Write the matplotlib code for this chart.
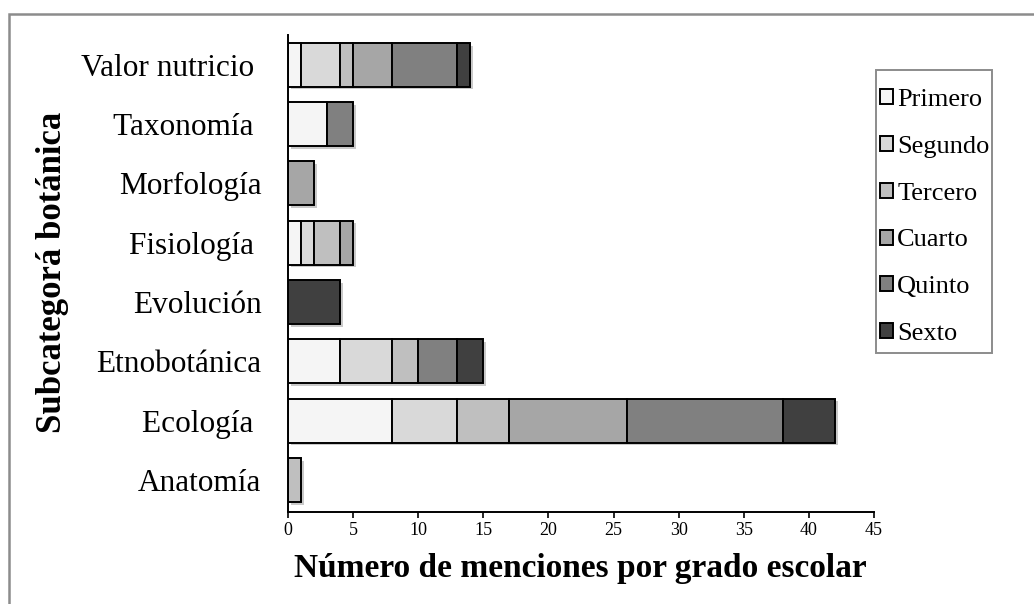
import matplotlib
matplotlib.use("Agg")
import matplotlib.pyplot as plt
import matplotlib.patheffects as pe
from matplotlib.patches import Rectangle
import numpy as np

plt.rcParams["font.family"] = ["Liberation Serif", "DejaVu Serif"]

# subcategorias (de cima para baixo) e mencoes por grado escolar
categorias = ["Valor nutricio ", "Taxonomía ", "Morfología", "Fisiología ",
              "Evolución", "Etnobotánica", "Ecología ", "Anatomía"]
grados = ["Primero", "Segundo", "Tercero", "Cuarto", "Quinto", "Sexto"]
primero = [1, 3, 0, 1, 0, 4, 8, 0]
segundo = [3, 0, 0, 1, 0, 4, 5, 0]
tercero = [1, 0, 0, 2, 0, 2, 4, 1]
cuarto = [3, 0, 2, 1, 0, 0, 9, 0]
quinto = [5, 2, 0, 0, 0, 3, 12, 0]
sexto = [1, 0, 0, 0, 4, 2, 4, 0]
cores = ["#f5f5f5", "#d9d9d9", "#bfbfbf", "#a6a6a6", "#808080", "#404040"]

series = [primero, segundo, tercero, cuarto, quinto, sexto]

fig = plt.figure(figsize=(10.34, 6.04), dpi=100)
ax = fig.add_axes([0.2785, 0.1523, 0.5667, 0.7897])

y = np.arange(len(categorias))[::-1]
esquerda = np.zeros(len(categorias))
sombra = [pe.SimplePatchShadow(offset=(2, -2), shadow_rgbFace="0.4", alpha=0.35), pe.Normal()]
for nome, vals, cor in zip(grados, series, cores):
    vals = np.array(vals, dtype=float)
    barras = ax.barh(y, vals, left=esquerda, height=0.74, color=cor,
                     edgecolor="black", linewidth=1.4, label=nome)
    for b, v in zip(barras, vals):
        if v == 0:
            b.set_visible(False)
        else:
            b.set_path_effects(sombra)
    esquerda += vals

ax.set_xlim(0, 45)
ax.set_ylim(-0.54, 7.5)
ax.set_xticks(range(0, 46, 5))
ax.set_yticks(y)
ax.set_yticklabels(categorias, fontsize=22.5)
ax.tick_params(axis="y", length=0, pad=19)
ax.tick_params(axis="x", length=4, width=1.2, direction="out", labelsize=13, pad=3)
for lado in ("top", "right"):
    ax.spines[lado].set_visible(False)
ax.spines["left"].set_linewidth(1.4)
ax.spines["bottom"].set_linewidth(1.4)

fig.text(0.561, 1 - 568 / 604, "Número de menciones por grado escolar",
         ha="center", va="center", fontsize=24, fontweight="bold")
fig.text(53 / 1034, 1 - 272 / 604, "Subcategorá botánica", rotation=90,
         ha="center", va="center", fontsize=25, fontweight="bold")

# legenda sem moldura propria; a caixa vai desenhada a parte
leg = ax.legend(loc="upper left", bbox_to_anchor=(880 / 1034, 1 - 89 / 604),
                bbox_transform=fig.transFigure, fontsize=19, frameon=False,
                handlelength=0.5, handleheight=0.5, handletextpad=0.15,
                labelspacing=0.94, borderpad=0, borderaxespad=0)
for h in leg.legend_handles:
    h.set_path_effects([])
fig.add_artist(Rectangle((876 / 1034, 1 - 353 / 604), 116 / 1034, 283 / 604,
                         transform=fig.transFigure, fill=False,
                         edgecolor="#8c8c8c", linewidth=1.4))

# moldura cinza em volta da figura
fig.add_artist(Rectangle((9 / 1034, -0.05), 1.1, 1 - 14 / 604 + 0.05,
                         transform=fig.transFigure, fill=False,
                         edgecolor="#8c8c8c", linewidth=1.8))

fig.savefig("out.png", dpi=100)
